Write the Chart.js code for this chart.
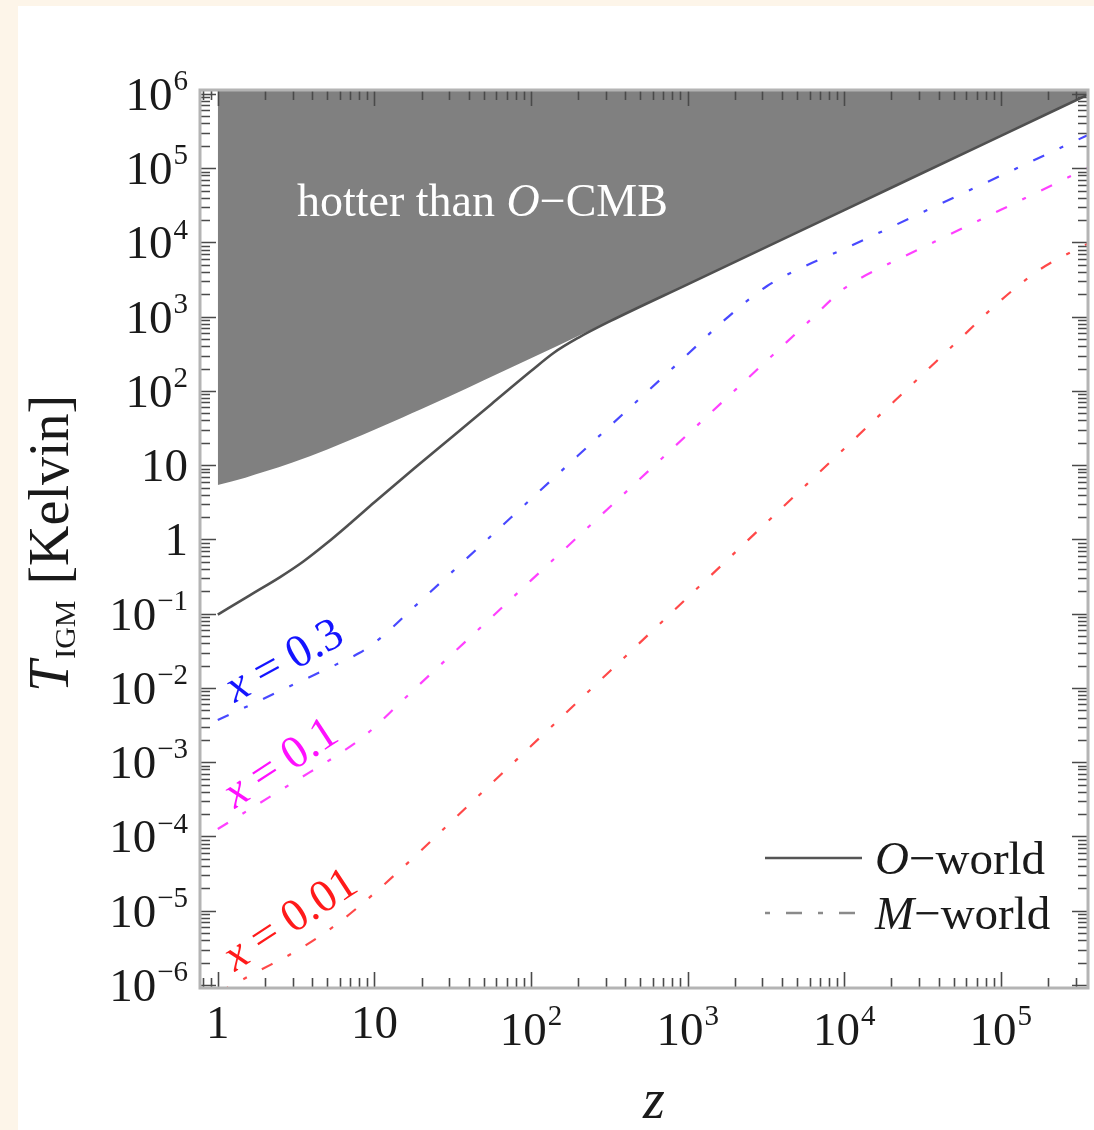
<!DOCTYPE html>
<html>
<head>
<meta charset="utf-8">
<script src="https://cdn.jsdelivr.net/npm/chart.js@4.4.0/dist/chart.umd.min.js"></script>
<style>
  html, body { margin: 0; padding: 0; background: #fdf5e9; width: 1094px; height: 1130px; overflow: hidden; }
  #wrap { position: absolute; left: 18px; top: 6px; width: 1076px; height: 1124px; background: #fff; }
</style>
</head>
<body>
<div id="wrap"><canvas id="c" width="1076" height="1124"></canvas></div>
<script>
// M-world curves (dash-dot), one per ionised fraction x
const zBlue = [1, 1.8, 3.2, 5.6, 8, 10, 12.6, 18, 32, 56, 100, 320, 1000, 1800, 3200, 5600, 1e4, 3.2e4, 1e5, 3.6e5];
const tBlue = [3.69e-3, 6.59e-3, 0.01167, 0.0203, 0.0295, 0.0404, 0.0611, 0.124, 0.380, 1.13, 3.51, 33.8, 312, 980, 2570, 4790, 8180, 25800, 79400, 2.8e5];

const zMagenta = [1, 1.8, 3.2, 5.6, 8, 10, 12.6, 18, 32, 56, 100, 320, 1000, 1800, 3200, 5600, 1e4, 1.26e4, 1.8e4, 3.2e4, 1e5, 3.6e5];
const tMagenta = [1.26e-4, 2.71e-4, 5.73e-4, 1.19e-3, 1.99e-3, 2.94e-3, 4.68e-3, 9.6e-3, 0.0298, 0.0895, 0.281, 2.76, 26.0, 82.6, 256, 769, 2400, 3270, 4820, 8650, 27500, 1.01e5];

const zRed = [1, 1.8, 3.2, 5.6, 8, 10, 18, 32, 100, 320, 1000, 3200, 1e4, 3.2e4, 5.6e4, 1e5, 1.8e5, 3.6e5];
const tRed = [7.8e-7, 1.52e-6, 2.9e-6, 6.31e-6, 1.15e-5, 1.72e-5, 5.32e-5, 1.69e-4, 1.65e-3, 0.01694, 0.1656, 1.70, 16.7, 171, 524, 1660, 4410, 9660];

// O-world curve (solid)
const zO = [1, 1.6, 2.5, 3.5, 5, 7, 10, 18, 32, 56, 100, 140, 200, 320, 1000, 1e4, 1e5, 3.6e5];
const tO = [0.0973, 0.177, 0.311, 0.50, 0.90, 1.64, 3.16, 9.1, 25.0, 66.8, 185, 327, 519, 870, 2730, 2.73e4, 2.73e5, 9.8e5];

// lower edge of the "hotter than O-CMB" region
const zCmb = [1, 1.5, 2, 3, 5, 7, 10, 15, 20, 30, 50, 100, 200, 320, 1000, 1e4, 1e5, 3.6e5];
const tCmb = [5.4, 6.8, 8.2, 10.9, 16.3, 21.8, 30, 43.6, 57, 84, 139, 275, 548, 875, 2730, 2.73e4, 2.73e5, 9.8e5];

const xExps = [0, 1, 2, 3, 4, 5];
const yExps = [-6, -5, -4, -3, -2, -1, 0, 1, 2, 3, 4, 5, 6];

const SERIF = '"Liberation Serif", "DejaVu Serif", serif';
const DASHDOT = [12, 17, 4, 17];

const pts = (xs, ys) => xs.map((v, i) => ({ x: v, y: ys[i] }));

function logTicks(min, max) {
    const out = [];
    for (let e = Math.floor(Math.log10(min)); e <= Math.ceil(Math.log10(max)); e++) {
        for (let m = 1; m <= 9; m++) {
            const v = m * Math.pow(10, e);
            if (v >= min && v <= max) out.push({ v: v, major: m === 1 });
        }
    }
    return out;
}

function powLabel(e) {
    if (e === 0) return ['1', ''];
    if (e === 1) return ['10', ''];
    return ['10', e < 0 ? '\u2212' + (-e) : String(e)];
}

function drawPow(ctx, e, x, y, align, size) {
    const [base, sup] = powLabel(e);
    const small = Math.round(size * 0.62);
    ctx.font = size + 'px ' + SERIF;
    const wb = ctx.measureText(base).width;
    ctx.font = small + 'px ' + SERIF;
    const ws = sup ? ctx.measureText(sup).width + 1 : 0;
    const total = wb + ws;
    const x0 = align === 'right' ? x - total : align === 'center' ? x - total / 2 : x;
    ctx.textAlign = 'left';
    ctx.font = size + 'px ' + SERIF;
    ctx.fillText(base, x0, y);
    if (sup) {
        ctx.font = small + 'px ' + SERIF;
        ctx.fillText(sup, x0 + wb + 1, y - size * 0.42);
    }
}

// parts: [text, size, italic, dy]
function drawRich(ctx, parts, x, y, angle, color) {
    ctx.save();
    ctx.translate(x, y);
    ctx.rotate(angle);
    ctx.fillStyle = color;
    ctx.textAlign = 'left';
    ctx.textBaseline = 'alphabetic';
    let cx = 0;
    parts.forEach(p => {
        ctx.font = (p[2] ? 'italic ' : '') + p[1] + 'px ' + SERIF;
        ctx.fillText(p[0], cx, p[3] || 0);
        cx += ctx.measureText(p[0]).width + (p[4] || 0);
    });
    ctx.restore();
}

const frame = {
    id: 'frame',
    afterDraw(chart) {
        const { ctx, chartArea: a } = chart;
        const xs = chart.scales.x, ys = chart.scales.y;
        ctx.save();

        // ticks, pointing inwards on all four sides
        ctx.strokeStyle = '#4a4a4a';
        ctx.lineWidth = 1.6;
        logTicks(xs.min, xs.max).forEach(t => {
            const px = Math.round(xs.getPixelForValue(t.v)) + 0.5;
            const len = t.major ? 16 : 10;
            ctx.beginPath();
            ctx.moveTo(px, a.bottom); ctx.lineTo(px, a.bottom - len);
            ctx.moveTo(px, a.top); ctx.lineTo(px, a.top + len);
            ctx.stroke();
        });
        logTicks(ys.min, ys.max).forEach(t => {
            const py = Math.round(ys.getPixelForValue(t.v)) + 0.5;
            const len = t.major ? 16 : 10;
            ctx.beginPath();
            ctx.moveTo(a.left, py); ctx.lineTo(a.left + len, py);
            ctx.moveTo(a.right, py); ctx.lineTo(a.right - len, py);
            ctx.stroke();
        });

        // frame
        ctx.strokeStyle = '#b4b4b4';
        ctx.lineWidth = 3;
        ctx.strokeRect(a.left, a.top, a.right - a.left, a.bottom - a.top);

        // tick labels
        ctx.fillStyle = '#1a1a1a';
        ctx.textBaseline = 'alphabetic';
        yExps.forEach(e => {
            const py = ys.getPixelForValue(Math.pow(10, e));
            drawPow(ctx, e, a.left - 12, py + 16, 'right', 47);
        });
        xExps.forEach(e => {
            const px = xs.getPixelForValue(Math.pow(10, e));
            drawPow(ctx, e, px, a.bottom + (e > 1 ? 57 : 50), 'center', 47);
        });

        // axis titles
        ctx.font = 'italic 56px ' + SERIF;
        ctx.textAlign = 'center';
        ctx.fillText('z', (a.left + a.right) / 2 + 10, a.bottom + 130);
        drawRich(ctx, [['T', 56, true, 0, 2], ['IGM', 30, false, 7, 16], ['[Kelvin]', 56, false]],
            50, 686, -Math.PI / 2, '#1a1a1a');

        // shaded region caption
        drawRich(ctx, [['hotter than ', 46, false], ['O', 46, true], ['\u2212CMB', 46, false]],
            a.left + 97, a.top + 126, 0, '#ffffff');

        // curve labels
        drawRich(ctx, [['x', 46, true], [' = 0.3', 46, false]], a.left + 35, a.top + 613, -0.5, '#1414ff');
        drawRich(ctx, [['x', 46, true], [' = 0.1', 46, false]], a.left + 35, a.top + 719, -0.58, '#ff10ff');
        drawRich(ctx, [['x', 46, true], [' = 0.01', 46, false]], a.left + 35, a.top + 882, -0.58, '#ff1a1a');

        // legend
        const lx0 = 747, lx1 = 844, ly1 = 852, ly2 = 907;
        ctx.lineWidth = 2.5;
        ctx.strokeStyle = '#555555';
        ctx.beginPath(); ctx.moveTo(lx0, ly1); ctx.lineTo(lx1, ly1); ctx.stroke();
        ctx.strokeStyle = '#8a8a8a';
        ctx.setLineDash([5, 16, 16, 16]);
        ctx.beginPath(); ctx.moveTo(lx0, ly2); ctx.lineTo(lx1, ly2); ctx.stroke();
        ctx.setLineDash([]);
        drawRich(ctx, [['O', 47, true], ['\u2212world', 47, false]], 857, 868, 0, '#1a1a1a');
        drawRich(ctx, [['M', 47, true], ['\u2212world', 47, false]], 857, 923, 0, '#1a1a1a');

        ctx.restore();
    }
};

const lineBase = { pointRadius: 0, fill: false, cubicInterpolationMode: 'monotone', order: 0 };

new Chart(document.getElementById('c'), {
    type: 'line',
    data: {
        datasets: [
            Object.assign({}, lineBase, {
                label: 'hotter than O-CMB', data: pts(zCmb, tCmb),
                fill: 'end', backgroundColor: '#808080', borderWidth: 0, order: 5
            }),
            Object.assign({}, lineBase, {
                label: 'x = 0.01', data: pts(zRed, tRed),
                borderColor: 'rgba(255,40,40,0.85)', borderWidth: 2.2, borderDash: DASHDOT
            }),
            Object.assign({}, lineBase, {
                label: 'x = 0.1', data: pts(zMagenta, tMagenta),
                borderColor: 'rgba(255,30,255,0.85)', borderWidth: 2.2, borderDash: DASHDOT
            }),
            Object.assign({}, lineBase, {
                label: 'x = 0.3', data: pts(zBlue, tBlue),
                borderColor: 'rgba(40,40,255,0.85)', borderWidth: 2.2, borderDash: DASHDOT
            }),
            Object.assign({}, lineBase, {
                label: 'O-world', data: pts(zO, tO),
                borderColor: '#505050', borderWidth: 2.6
            })
        ]
    },
    options: {
        responsive: false,
        animation: false,
        devicePixelRatio: 1,
        layout: { padding: { left: 182, right: 6, top: 84, bottom: 142 } },
        scales: {
            x: { type: 'logarithmic', min: 0.77, max: 3.6e5, bounds: 'data', display: false },
            y: { type: 'logarithmic', min: 9.1e-7, max: 1.13e6, bounds: 'data', display: false }
        },
        plugins: { legend: { display: false }, tooltip: { enabled: false } }
    },
    plugins: [frame]
});
</script>
</body>
</html>
